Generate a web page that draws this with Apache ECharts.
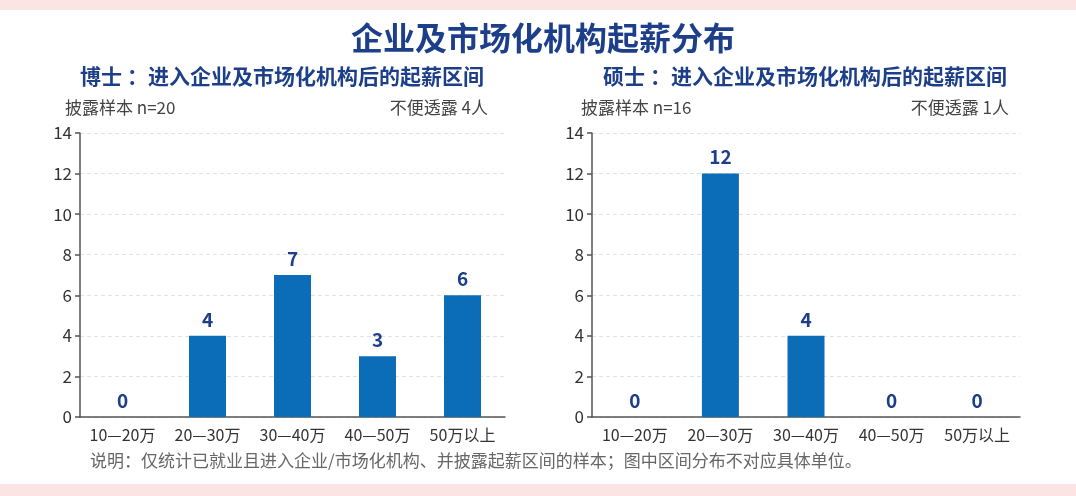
<!DOCTYPE html>
<html>
<head>
<meta charset="utf-8">
<script src="https://cdn.jsdelivr.net/npm/echarts@6/dist/echarts.min.js"></script>
<style>
  html, body { margin: 0; padding: 0; background: #fff; }
  #chart { width: 1076px; height: 496px; }
</style>
</head>
<body>
<div id="chart"></div>
<script>
// 起薪区间
const categories = ['10—20万', '20—30万', '30—40万', '40—50万', '50万以上']
// 博士 / 硕士 人数
const phdCounts = [0, 4, 7, 3, 6]
const masterCounts = [0, 12, 4, 0, 0]

const barColor = '#0b6cb8'
const navy = '#1d3f8a'
const font = 'Noto Sans CJK SC'

const chart = echarts.init(document.getElementById('chart'))

function yAxis(gridIndex) {
  return {
    type: 'value',
    gridIndex,
    min: 0,
    max: 14,
    interval: 2,
    axisLine: { show: true, lineStyle: { color: '#555', width: 1.5 } },
    axisTick: { show: true, length: 5, lineStyle: { color: '#555', width: 1.5 } },
    axisLabel: { color: '#333', fontSize: 17, fontFamily: font, margin: 8 },
    splitLine: { lineStyle: { color: '#e2e2e2', type: [4, 3] } }
  }
}

function xAxis(gridIndex) {
  return {
    type: 'category',
    gridIndex,
    data: categories,
    axisLine: { lineStyle: { color: '#555', width: 1.5 } },
    axisTick: { show: false },
    axisLabel: { color: '#333', fontSize: 16, fontFamily: font, margin: 10, interval: 0 }
  }
}

function barSeries(idx, data) {
  return {
    type: 'bar',
    xAxisIndex: idx,
    yAxisIndex: idx,
    data,
    barWidth: 37,
    itemStyle: { color: barColor },
    label: {
      show: true,
      position: 'top',
      distance: 7,
      color: navy,
      fontSize: 19,
      fontWeight: 'bold',
      fontFamily: font
    },
    animation: false
  }
}

chart.setOption({
  backgroundColor: '#fff',
  textStyle: { fontFamily: font },
  title: [
    {
      text: '企业及市场化机构起薪分布',
      left: 538, top: 17, textAlign: 'center',
      textStyle: { color: navy, fontSize: 32, fontWeight: 'bold', fontFamily: font }
    },
    {
      text: '博士 ：进入企业及市场化机构后的起薪区间',
      left: 277, top: 61, textAlign: 'center',
      textStyle: { color: navy, fontSize: 21, fontWeight: 'bold', fontFamily: font }
    },
    {
      text: '硕士 ：进入企业及市场化机构后的起薪区间',
      left: 800, top: 61, textAlign: 'center',
      textStyle: { color: navy, fontSize: 21, fontWeight: 'bold', fontFamily: font }
    }
  ],
  graphic: [
    { type: 'rect', left: 0, top: 0, shape: { width: 1076, height: 10 }, style: { fill: '#fde4e4' } },
    { type: 'rect', left: 0, top: 484, shape: { width: 1076, height: 12 }, style: { fill: '#fde4e4' } },
    { type: 'text', left: 65, top: 99, style: { text: '披露样本 n=20', fill: '#444', font: '17px "Noto Sans CJK SC"' } },
    { type: 'text', right: 588, top: 99, style: { text: '不便透露 4人', fill: '#444', font: '17px "Noto Sans CJK SC"' } },
    { type: 'text', left: 581, top: 99, style: { text: '披露样本 n=16', fill: '#444', font: '17px "Noto Sans CJK SC"' } },
    { type: 'text', right: 67, top: 99, style: { text: '不便透露 1人', fill: '#444', font: '17px "Noto Sans CJK SC"' } },
    {
      type: 'text', left: 90, top: 452,
      style: {
        text: '说明：仅统计已就业且进入企业/市场化机构、并披露起薪区间的样本；图中区间分布不对应具体单位。',
        fill: '#666', font: '17px "Noto Sans CJK SC"'
      }
    }
  ],
  grid: [
    { left: 80, top: 133, width: 425, height: 284 },
    { left: 592, top: 133, width: 428, height: 284 }
  ],
  xAxis: [xAxis(0), xAxis(1)],
  yAxis: [yAxis(0), yAxis(1)],
  series: [barSeries(0, phdCounts), barSeries(1, masterCounts)]
})
</script>
</body>
</html>
